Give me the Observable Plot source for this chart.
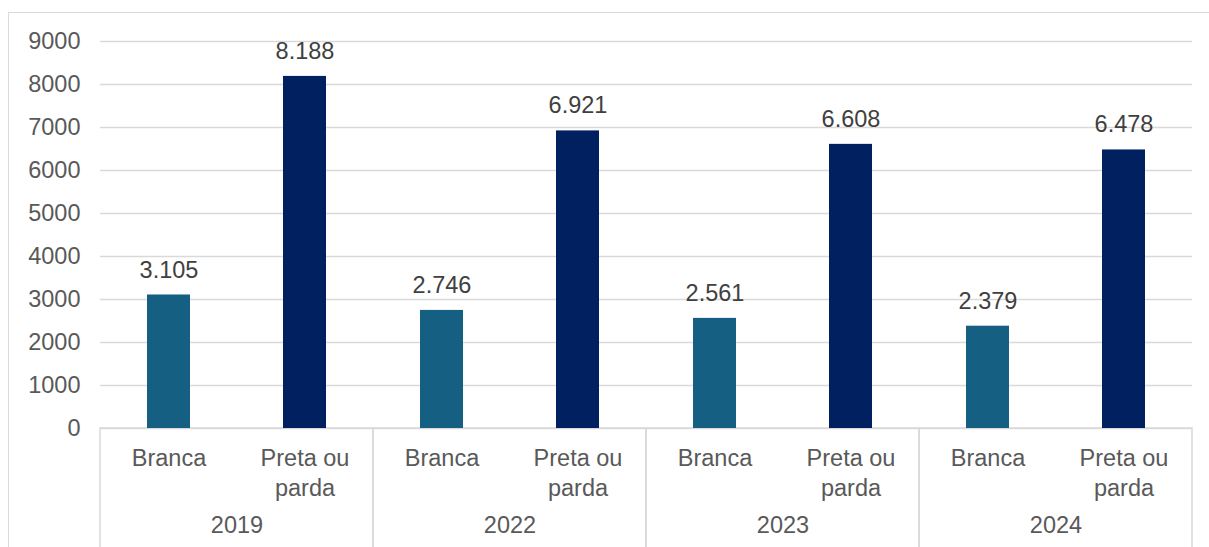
<!DOCTYPE html>
<html>
<head>
<meta charset="utf-8">
<script src="https://cdn.jsdelivr.net/npm/d3@7"></script>
<script src="https://cdn.jsdelivr.net/npm/@observablehq/plot@0.6"></script>
<style>
  html, body { margin: 0; padding: 0; background: #fff; }
  #wrap { position: relative; width: 1209px; height: 547px; overflow: hidden; background: #fff; }
  #border { position: absolute; left: 8px; top: 12px; width: 1300px; height: 700px;
            border: 1.5px solid #d9d9d9; box-sizing: border-box; pointer-events: none; }
</style>
</head>
<body>
<div id="wrap"><div id="border"></div></div>
<script>
const years = ["2019", "2022", "2023", "2024"];
const races = ["Branca", "Preta ou parda"];
const raceLabels = ["Branca", "Preta ou\nparda"];
const branca = [3105, 2746, 2561, 2379];
const pretaParda = [8188, 6921, 6608, 6478];
const yTicks = [0, 1000, 2000, 3000, 4000, 5000, 6000, 7000, 8000, 9000];
const colors = ["#156082", "#002060"];

const data = years.flatMap((year, i) => [
  {year, race: races[0], value: branca[i]},
  {year, race: races[1], value: pretaParda[i]}
]);

const br = d3.formatLocale({decimal: ",", thousands: ".", grouping: [3], currency: ["R$", ""]});
const fmt = br.format(",d");

const chart = Plot.plot({
  width: 1209,
  height: 547,
  marginLeft: 100,
  marginRight: 17,
  marginTop: 41,
  marginBottom: 119,
  style: {fontFamily: "'Liberation Sans', Arial, sans-serif", fontSize: "23.5px", color: "#595959", background: "transparent", overflow: "hidden"},
  fx: {domain: years, padding: 0, label: null},
  x: {domain: races, paddingInner: 0.685, paddingOuter: 0.3425, label: null},
  y: {domain: [0, 9000], label: null},
  color: {domain: races, range: colors},
  marks: [
    Plot.ruleY(yTicks, {stroke: "#d9d9d9", strokeWidth: 1.5}),
    Plot.rect(years, {fx: d => d, y1: 0, y2: -3500, stroke: "#d9d9d9", strokeWidth: 1.5, fill: "none"}),
    Plot.barY(data, {fx: "year", x: "race", y: "value", fill: "race"}),
    Plot.text(data, {fx: "year", x: "race", y: "value", text: d => fmt(d.value), dy: -25, lineAnchor: "middle", fill: "#404040"}),
    Plot.axisY({ticks: yTicks, tickSize: 0, tickPadding: 20, tickFormat: d3.format("d"), label: null}),
    Plot.axisX({tickSize: 0, tickPadding: 17, lineHeight: 1.25, tickFormat: d => raceLabels[races.indexOf(d)], label: null}),
    Plot.axisFx({anchor: "bottom", tickSize: 0, tickPadding: 88, label: null})
  ]
});
document.getElementById("wrap").insertBefore(chart, document.getElementById("border"));
</script>
</body>
</html>
